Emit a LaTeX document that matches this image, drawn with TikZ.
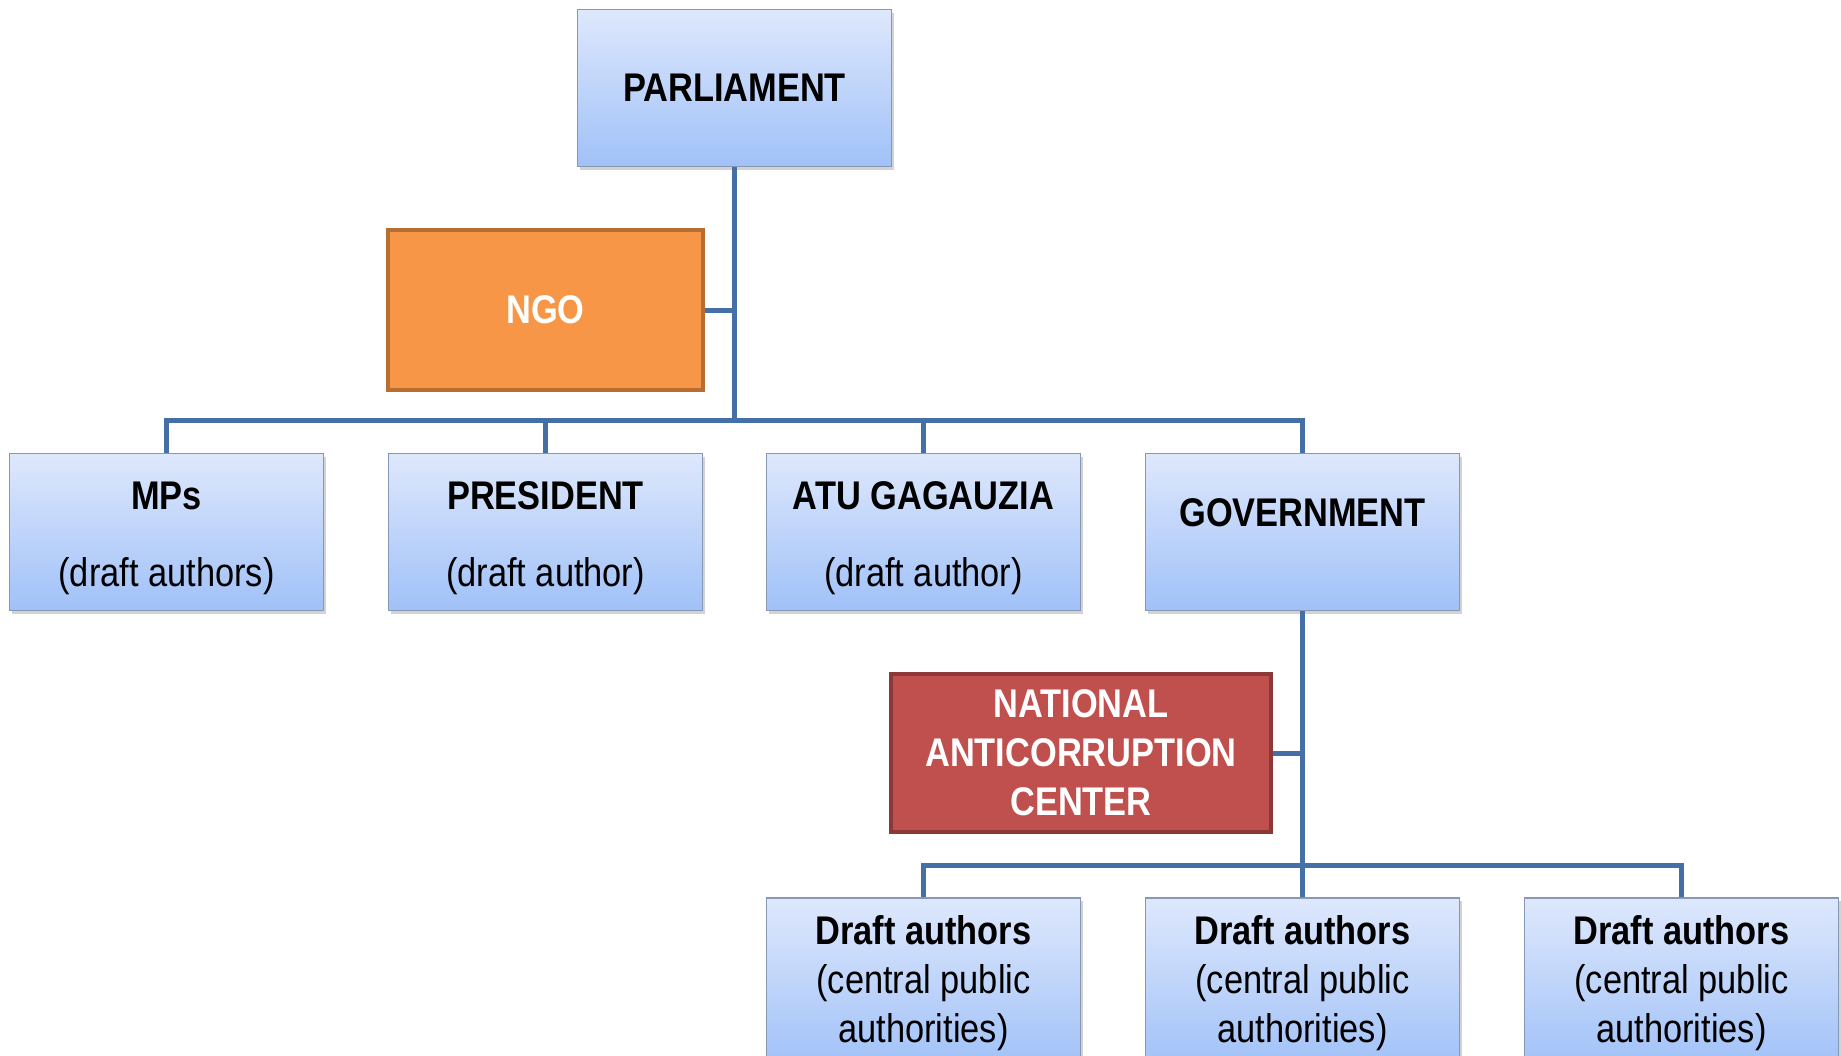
\documentclass[tikz,border=0pt]{standalone}
\usepackage{fontspec}
\setmainfont[FakeStretch=0.86]{Liberation Sans}
\usetikzlibrary{shadows,calc}
\definecolor{btop}{RGB}{222,232,252}
\definecolor{bbot}{RGB}{160,193,248}
\definecolor{bline}{RGB}{135,152,180}
\definecolor{conn}{RGB}{68,112,166}
\definecolor{ofill}{RGB}{246,150,70}
\definecolor{oline}{RGB}{182,110,50}
\definecolor{rfill}{RGB}{192,80,77}
\definecolor{rline}{RGB}{140,56,54}
\tikzset{
  x=1pt, y=-1pt,
  bluebox/.style={draw=bline, line width=1.5pt, top color=btop, bottom color=bbot,
    minimum width=314pt, minimum height=157pt, inner sep=0pt, align=center,
    drop shadow={opacity=0.35, shadow xshift=2pt, shadow yshift=-3pt},
    font=\fontsize{40}{77}\selectfont},
  lowbox/.style={bluebox, minimum height=170pt, font=\fontsize{40}{49}\selectfont},
  ngobox/.style={draw=oline, line width=4pt, fill=ofill, minimum width=315pt, minimum height=160pt,
    inner sep=0pt, text=white, font=\fontsize{40}{49}\selectfont\bfseries},
  ncbox/.style={draw=rline, line width=4pt, fill=rfill, minimum width=380pt, minimum height=158pt,
    inner sep=0pt, text=white, align=center, font=\fontsize{40}{49}\selectfont\bfseries},
  link/.style={draw=conn, line width=5pt},
}
\newcommand{\upstrut}{\rule{0pt}{41pt}}
\begin{document}
\begin{tikzpicture}
\useasboundingbox (0,0) rectangle (1841,1055);
\clip (0,0) rectangle (1841,1055);
\fill[white] (0,0) rectangle (1841,1055);
% nodes
\node[bluebox, minimum height=157pt] (parl) at (734.5,88) {\textbf{PARLIAMENT}};
\node[ngobox] (ngo) at (545.5,310) {NGO};
\node[bluebox] (mps) at (166.5,532) {\upstrut\textbf{MPs}\\(draft authors)};
\node[bluebox] (pres) at (545.5,532) {\upstrut\textbf{PRESIDENT}\\(draft author)};
\node[bluebox] (atu) at (923.5,532) {\upstrut\textbf{ATU GAGAUZIA}\\(draft author)};
\node[bluebox] (gov) at (1302.5,532) {};
\node[font=\fontsize{40}{49}\selectfont\bfseries] (govtext) at (1302.5,513) {GOVERNMENT};
\node[ncbox] (nac) at (1081,753) {NATIONAL\\ANTICORRUPTION\\CENTER};
\node[lowbox] (d1) at (923.5,983) {\textbf{Draft authors}\\(central public\\authorities)};
\node[lowbox] (d2) at (1302.5,983) {\textbf{Draft authors}\\(central public\\authorities)};
\node[lowbox] (d3) at (1681.5,983) {\textbf{Draft authors}\\(central public\\authorities)};
% connectors
\coordinate (j1) at (734.5,420);
\coordinate (j2) at (1302.5,865);
\draw[link] (parl.south) -- (j1);
\draw[link] (ngo.east) -- (ngo.east -| j1);
\draw[link] (mps.north) |- (gov.north |- j1) -- (gov.north);
\draw[link] (pres.north) -- (pres.north |- j1);
\draw[link] (atu.north) -- (atu.north |- j1);
\draw[link] (gov.south) -- (j2);
\draw[link] (nac.east) -- (nac.east -| j2);
\draw[link] (d1.north) |- (d3.north |- j2) -- (d3.north);
\draw[link] (d2.north) -- (d2.north |- j2);
\end{tikzpicture}
\end{document}
